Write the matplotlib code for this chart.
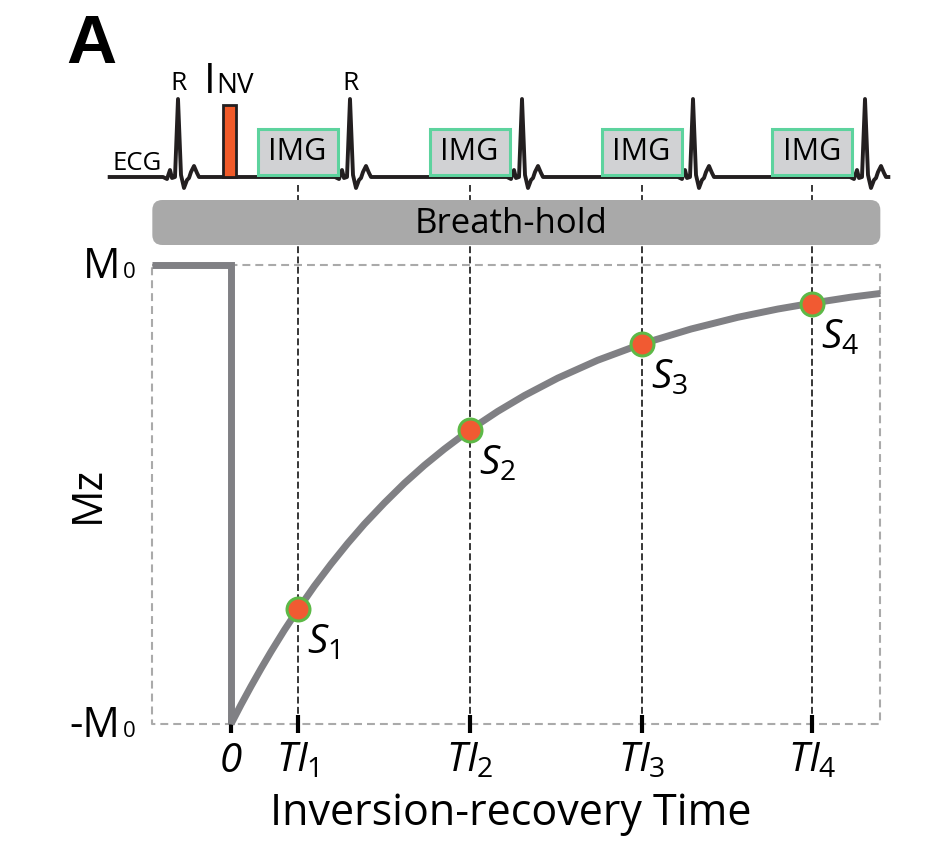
import matplotlib
matplotlib.use("Agg")
import matplotlib.pyplot as plt
from matplotlib.patches import Rectangle, FancyBboxPatch

plt.rcParams['font.family'] = ['Open Sans', 'DejaVu Sans']
plt.rcParams['mathtext.fontset'] = 'custom'
plt.rcParams['mathtext.rm'] = 'Open Sans'
plt.rcParams['mathtext.it'] = 'Open Sans:italic'

# inversion times (a.u.) where the images are taken
ti_times = [100, 358, 616, 872]
ti_labels = [r'$\mathit{TI}_{\mathrm{1}}$', r'$\mathit{TI}_{\mathrm{2}}$',
             r'$\mathit{TI}_{\mathrm{3}}$', r'$\mathit{TI}_{\mathrm{4}}$']

# sampled signal (Mz / M0) at each TI
s_values = [-0.50, 0.28, 0.655, 0.83]
s_labels = [r'$\mathit{S}_{\mathrm{1}}$', r'$\mathit{S}_{\mathrm{2}}$',
            r'$\mathit{S}_{\mathrm{3}}$', r'$\mathit{S}_{\mathrm{4}}$']

# recovery curve
curve_t = [0, 15, 30, 45, 60, 80, 100, 125, 150, 175, 200, 230, 260, 290,
           320, 358, 400, 440, 490, 550, 616, 690, 760, 820, 872, 930, 974]
curve_mz = [-1.0, -0.916, -0.836, -0.759, -0.685, -0.591, -0.503, -0.399,
            -0.303, -0.213, -0.129, -0.037, 0.049, 0.127, 0.198, 0.281,
            0.362, 0.431, 0.507, 0.585, 0.656, 0.721, 0.772, 0.808, 0.834,
            0.860, 0.876]

# magnetisation before and at the inversion
pre_t = [-118, 0, 0]
pre_mz = [1, 1, -1]

# dashed frame of the plot
box_t = [-118, 974]

# ECG: R peak times and one beat template (time offset, amplitude)
r_peaks = [-79.5, 178.5, 436.5, 693, 951]
beat_dt = [-22.5, -16.5, -12, -9, -4.5, 0, 4.5, 9, 13.5, 16.5, 19.5, 24, 28.5, 31.5]
beat_amp = [0, -2, 7, -1, 0, 78, 2, -11, -3, -1, 5, 11, 4, 0]
ecg_span = [-182, 986]
inv_time = -2
inv_width = 19
img_width = 120

gray = '#808084'

fig = plt.figure(figsize=(9.3, 8.42), dpi=100)
ax = fig.add_axes([0.14803, 0.12651, 0.81362, 0.57239])
ax.set_xlim(-140, 995)
ax.set_ylim(-1.05, 1.05)
ax.patch.set_visible(False)

# frame
ax.plot([box_t[0], box_t[1], box_t[1], box_t[0], box_t[0]], [1, 1, -1, -1, 1],
        color='#aaaaaa', lw=1.5, ls=(0, (3.8, 2.4)), zorder=1)

# TI guide lines
ax.vlines(ti_times, -1, 1.35, colors='k', lw=1.1, linestyles=(0, (4.5, 2.2)),
          clip_on=False, zorder=1)

# magnetisation
ax.plot(pre_t, pre_mz, color=gray, lw=5, solid_joinstyle='miter',
        solid_capstyle='butt', zorder=3)
ax.plot(curve_t, curve_mz, color=gray, lw=5, solid_joinstyle='round',
        solid_capstyle='butt', zorder=3)

ax.plot(ti_times, s_values, 'o', ms=16.5, mfc='#F15A32', mec='#5DB947',
        mew=2.2, zorder=5)
for t, v, lab in zip(ti_times, s_values, s_labels):
    ax.annotate(lab, (t, v), xytext=(6.5, -32), textcoords='offset points',
                ha='left', va='baseline', fontsize=29)

# x axis
for side in ['top', 'right', 'left']:
    ax.spines[side].set_visible(False)
ax.spines['bottom'].set_position(('data', -1))
ax.spines['bottom'].set_color('none')
ax.set_xticks([0] + ti_times)
ax.set_xticklabels(['0'] + ti_labels, fontsize=29)
ax.get_xticklabels()[0].set_fontstyle('italic')
ax.tick_params(axis='x', direction='inout', length=13, width=3, color='k', pad=6)
ax.tick_params(axis='y', left=False, labelleft=False)

# M0 labels
for v, lab in [(1, 'M'), (-1, '-M')]:
    ax.annotate(lab, (box_t[0], v), xytext=(-23, -9), textcoords='offset points',
                ha='right', va='baseline', fontsize=30)
    ax.annotate('0', (box_t[0], v), xytext=(-21, -9), textcoords='offset points',
                ha='left', va='baseline', fontsize=16)

ax.set_ylabel('Mz', fontsize=30, labelpad=21)
fig.text(511 / 930, 1 - 825 / 842, 'Inversion-recovery Time', fontsize=31,
         ha='center', va='baseline')
fig.text(66 / 930, 1 - 63 / 842, 'A', fontsize=50, fontweight='bold',
         family='Liberation Sans', ha='left', va='baseline')

# ECG / sequence panel
ax_e = fig.add_axes([0.14803, 0.70309, 0.81362, 0.22565], sharex=ax)
ax_e.set_ylim(-73, 117)
ax_e.axis('off')

ecg_t = [ecg_span[0]]
ecg_amp = [0]
for r in r_peaks:
    ecg_t += [r + d for d in beat_dt]
    ecg_amp += beat_amp
ecg_t.append(ecg_span[1])
ecg_amp.append(0)
ax_e.plot(ecg_t, ecg_amp, color='#231F20', lw=2.8, solid_joinstyle='round',
          clip_on=False, zorder=2)

for r in r_peaks[:2]:
    ax_e.text(r, 87, 'R', ha='center', va='baseline', fontsize=19)

ax_e.add_patch(Rectangle((inv_time - inv_width / 2, 0), inv_width, 72,
                         fc='#F15A29', ec='#231F20', lw=2, zorder=3))
ax_e.text(-41, 84, 'I', ha='left', va='baseline', fontsize=30)
ax_e.text(-22, 84, 'NV', ha='left', va='baseline', fontsize=20)
ax_e.text(-178, 7, 'ECG', ha='left', va='baseline', fontsize=18.5)

for t in ti_times:
    ax_e.add_patch(Rectangle((t - img_width / 2, 1.5), img_width, 46.5,
                             fc='#D1D2D4', ec='#5DD39E', lw=2.2, zorder=3))
    ax_e.text(t, 24.5, 'IMG', ha='center', va='center', fontsize=22, zorder=4)

ax_e.add_patch(FancyBboxPatch((box_t[0], -68), box_t[1] - box_t[0], 45,
                              boxstyle='round,pad=0,rounding_size=15',
                              mutation_aspect=1 / 1.5, fc='#A9A9A9', ec='none',
                              zorder=5))
ax_e.text(420, -56, 'Breath-hold', ha='center', va='baseline', fontsize=25, zorder=6)

fig.savefig('out.png', dpi=100)
